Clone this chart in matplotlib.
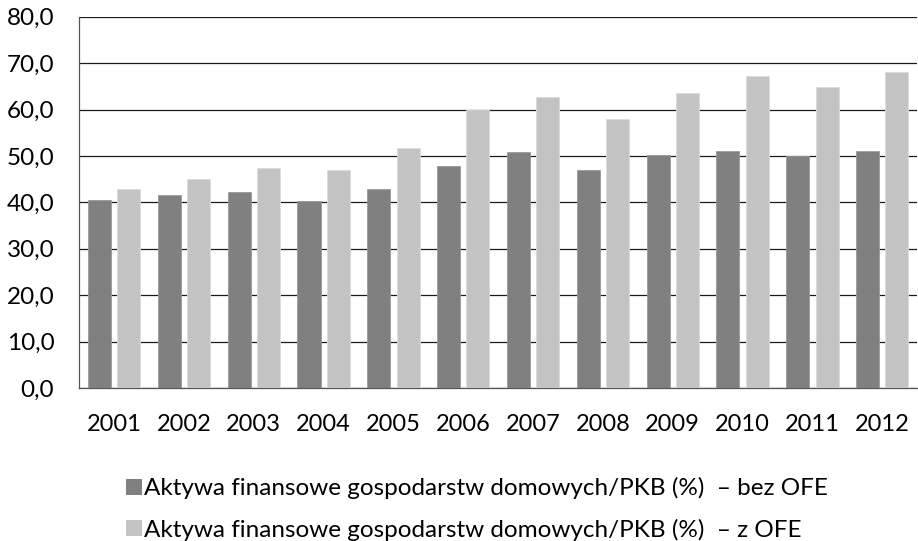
import matplotlib
matplotlib.use("Agg")
import matplotlib.pyplot as plt
import numpy as np
from matplotlib.patches import Patch

years = ["2001", "2002", "2003", "2004", "2005", "2006", "2007", "2008", "2009", "2010", "2011", "2012"]
bez_ofe = [40.6, 41.6, 42.2, 40.2, 42.9, 47.8, 50.9, 46.9, 50.2, 51.1, 49.9, 51.0]
z_ofe = [42.9, 45.1, 47.4, 47.0, 51.8, 59.8, 62.7, 57.9, 63.5, 67.2, 64.9, 68.0]
labels = ["Aktywa finansowe gospodarstw domowych/PKB (%)  – bez OFE",
          "Aktywa finansowe gospodarstw domowych/PKB (%)  – z OFE"]
yticks = [0, 10, 20, 30, 40, 50, 60, 70, 80]

plt.rcParams['font.family'] = ['Lato', 'DejaVu Sans']

fig = plt.figure(figsize=(9.18, 5.41), dpi=100)
ax = fig.add_axes([0.0864, 0.283, 0.9126, 0.686])

c1, c2 = "#808080", "#c3c3c3"
x = np.arange(len(years))
w = 0.33
off = 0.21
ax.bar(x - off, bez_ofe, w, color=c1, edgecolor="#9a9a9a", linewidth=0.6, zorder=3)
ax.bar(x + off, z_ofe, w, color=c2, edgecolor="#dcdcdc", linewidth=0.6, zorder=3)

ax.set_xlim(-0.5, len(years) - 0.5)
ax.set_ylim(0, 80)
ax.set_yticks(yticks)
ax.set_yticklabels([f"{v:.1f}".replace(".", ",") for v in yticks], fontsize=17.5)
ax.set_xticks(x)
ax.set_xticklabels(years, fontsize=17)
ax.tick_params(axis="both", length=0, colors="black")
ax.tick_params(axis="x", pad=19)
ax.tick_params(axis="y", pad=18)
ax.yaxis.grid(True, color="#1a1a1a", linewidth=0.9, zorder=0)
ax.set_axisbelow(True)
for s in ["top", "right"]:
    ax.spines[s].set_visible(False)
ax.spines["left"].set_color("#555555")
ax.spines["bottom"].set_color("#555555")
ax.spines["left"].set_linewidth(0.9)
ax.spines["bottom"].set_linewidth(0.9)

handles = [Patch(facecolor=c1, edgecolor="none"), Patch(facecolor=c2, edgecolor="none")]
fig.legend(handles, labels, loc="upper left", bbox_to_anchor=(0.137, 0.118),
           frameon=False, fontsize=17.5, handlelength=0.65, handleheight=0.65,
           handletextpad=0.12, labelspacing=0.8, borderpad=0, borderaxespad=0)

fig.savefig("out.png", dpi=100)
